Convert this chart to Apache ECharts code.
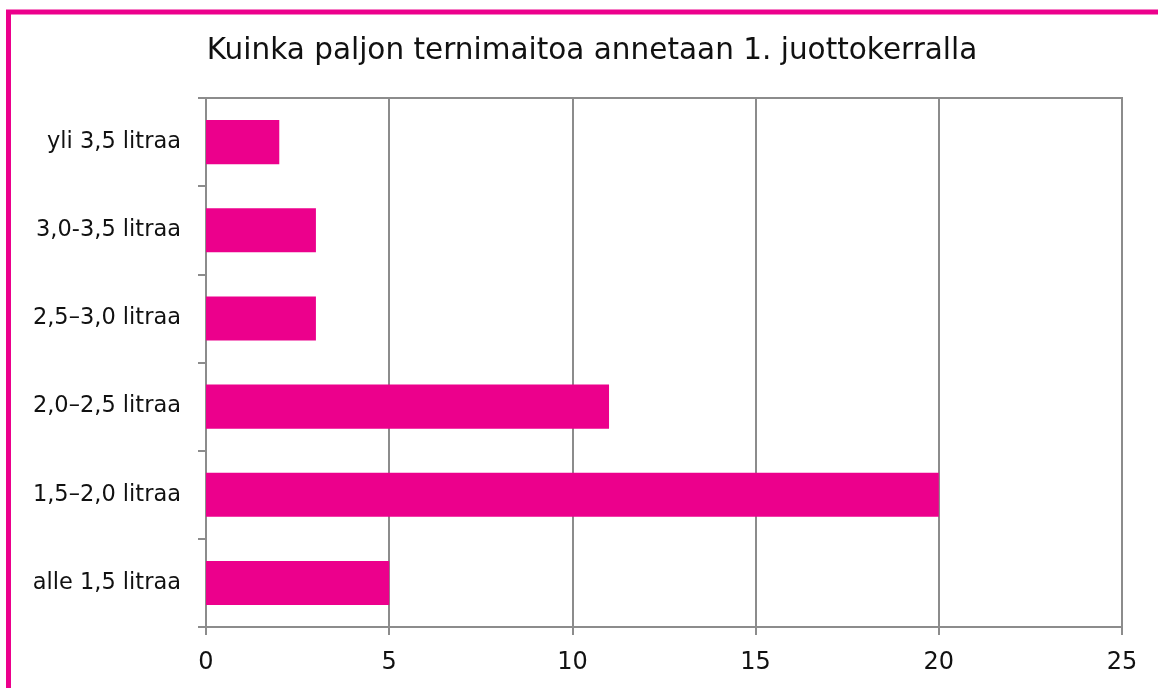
<!DOCTYPE html>
<html>
<head>
<meta charset="utf-8">
<script src="https://cdn.jsdelivr.net/npm/echarts@6/dist/echarts.min.js"></script>
<style>
  html, body { margin: 0; padding: 0; background: #fff; }
  #chart { width: 1158px; height: 688px; }
</style>
</head>
<body>
<div id="chart"></div>
<script>
const categories = ['alle 1,5 litraa', '1,5–2,0 litraa', '2,0–2,5 litraa', '2,5–3,0 litraa', '3,0-3,5 litraa', 'yli 3,5 litraa']
const values = [5, 20, 11, 3, 3, 2]
const xTicks = [0, 5, 10, 15, 20, 25]

const pink = '#EC008C'
const axisGray = '#8c8c8c'
const font = "'DejaVu Sans', sans-serif"

const chart = echarts.init(document.getElementById('chart'))
chart.setOption({
  animation: false,
  backgroundColor: '#fff',
  title: {
    text: 'Kuinka paljon ternimaitoa annetaan 1. juottokerralla',
    left: 587,
    textAlign: 'center',
    top: 31,
    textStyle: { fontFamily: font, fontSize: 29.5, fontWeight: 'normal', color: '#111' }
  },
  graphic: [{
    type: 'rect',
    silent: true,
    shape: { x: 8.5, y: 12, width: 1300, height: 900 },
    style: { fill: 'none', stroke: pink, lineWidth: 5 }
  }],
  grid: { left: 206, right: 36, top: 98, bottom: 61, show: true, borderColor: axisGray, borderWidth: 2 },
  xAxis: {
    type: 'value',
    min: xTicks[0],
    max: xTicks[xTicks.length - 1],
    interval: 5,
    axisLine: { show: true, lineStyle: { color: axisGray, width: 2 } },
    axisTick: { show: true, length: 8, lineStyle: { color: axisGray, width: 2 } },
    splitLine: { show: true, lineStyle: { color: axisGray, width: 2 } },
    axisLabel: { margin: 24, fontFamily: font, fontSize: 24, color: '#111' }
  },
  yAxis: {
    type: 'category',
    data: categories,
    axisLine: { show: true, lineStyle: { color: axisGray, width: 2 } },
    axisTick: { show: true, length: 8, lineStyle: { color: axisGray, width: 2 } },
    splitLine: { show: false },
    axisLabel: { margin: 25, fontFamily: font, fontSize: 22.5, color: '#111' }
  },
  series: [{
    type: 'bar',
    data: values,
    barWidth: '50%',
    itemStyle: { color: pink }
  }]
})
</script>
</body>
</html>
